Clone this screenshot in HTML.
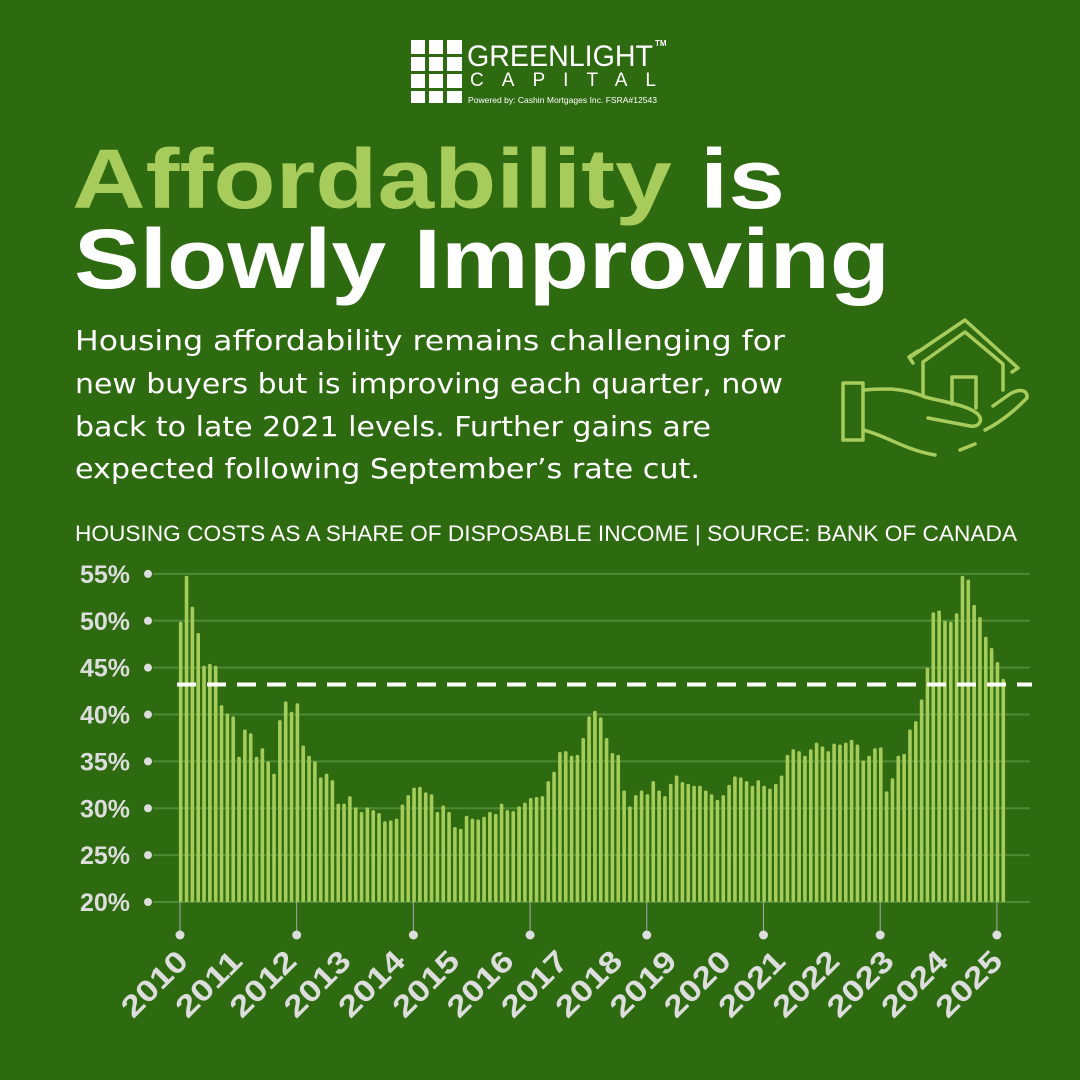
<!DOCTYPE html>
<html><head><meta charset="utf-8"><style>
html,body{margin:0;padding:0;background:#2d6a10;}
svg{display:block}
</style></head><body>
<svg id="s" width="1080" height="1080" viewBox="0 0 1080 1080" xmlns="http://www.w3.org/2000/svg">
<rect width="1080" height="1080" fill="#2d6a10"/>
<g fill="#fff">
<rect x="411" y="40" width="14" height="14"/><rect x="429" y="40" width="14" height="14"/><rect x="447" y="40" width="15" height="14"/>
<rect x="411" y="57" width="14" height="14"/><rect x="429" y="57" width="14" height="14"/><rect x="447" y="57" width="15" height="14"/>
<rect x="411" y="74" width="14" height="14"/><rect x="429" y="74" width="14" height="14"/><rect x="447" y="74" width="15" height="14"/>
<rect x="411" y="91" width="14" height="12"/><rect x="429" y="91" width="14" height="12"/><rect x="447" y="91" width="15" height="12"/>
</g>
<g font-family="Liberation Sans, sans-serif" fill="#fff">
<text x="467" y="66" font-size="30" textLength="186" lengthAdjust="spacingAndGlyphs">GREENLIGHT</text>
<text x="655" y="46" font-size="8" font-weight="bold">TM</text>
<text x="470" y="86" font-size="19" textLength="186" lengthAdjust="spacing">CAPITAL</text>
<text x="468" y="103" font-size="8.5" textLength="189" lengthAdjust="spacingAndGlyphs">Powered by:  Cashin Mortgages Inc.  FSRA#12543</text>
</g>
<g font-family="Liberation Sans, sans-serif" font-weight="bold">
<text x="72" y="208" font-size="84" textLength="713" lengthAdjust="spacingAndGlyphs"><tspan fill="#a8cc5c">Affordability</tspan><tspan fill="#fff"> is</tspan></text>
<text x="74" y="288" font-size="84" fill="#fff" textLength="816" lengthAdjust="spacingAndGlyphs">Slowly Improving</text>
</g>
<g font-family="DejaVu Sans, sans-serif" font-size="28" fill="#fff">
<text x="75" y="350" textLength="710" lengthAdjust="spacingAndGlyphs">Housing affordability remains challenging for</text>
<text x="75" y="393" textLength="708" lengthAdjust="spacingAndGlyphs">new buyers but is improving each quarter, now</text>
<text x="75" y="436" textLength="636" lengthAdjust="spacingAndGlyphs">back to late 2021 levels. Further gains are</text>
<text x="75" y="478" textLength="625" lengthAdjust="spacingAndGlyphs">expected following September’s rate cut.</text>
</g>
<text x="75" y="541" font-family="Liberation Sans, sans-serif" font-size="22" fill="#fff" textLength="942" lengthAdjust="spacingAndGlyphs">HOUSING COSTS AS A SHARE OF DISPOSABLE INCOME | SOURCE: BANK OF CANADA</text>
<g fill="none" stroke="#a8cc5c" stroke-width="3.5" stroke-linecap="round" stroke-linejoin="round">
<path d="M912 356 L965 320 L1018 368 L1012 372"/>
<path d="M918 351 L909 357 L913 363"/>
<path d="M923 362 L965 332 L1003 364 V390"/>
<path d="M923 364 V396"/>
<path d="M952 404 V377 H976 V408"/>
<rect x="843" y="383" width="20" height="57"/>
<path d="M863 390 C885 388 905 388 925 397 C945 402 965 405 975 412 C985 418 980 428 970 426 L928 418"/>
<path d="M863 430 C885 435 905 450 935 455"/>
<path d="M960 450 L975 444"/>
<path d="M985 430 C1005 420 1020 405 1027 398 C1028 390 1020 388 1010 394 L993 406"/>
</g>
<g id="chart"></g>
</svg>
<script>
var v=[49.9,54.8,51.5,48.7,45.2,45.4,45.2,41.0,40.1,39.8,35.5,38.4,38.0,35.5,36.4,35.0,33.7,39.4,41.4,40.3,41.2,36.7,35.6,35.0,33.3,33.7,33.0,30.5,30.5,31.3,30.1,29.6,30.1,29.8,29.5,28.6,28.7,28.9,30.4,31.4,32.2,32.3,31.7,31.5,29.6,30.3,29.6,28.0,27.8,29.2,28.9,28.8,29.1,29.6,29.4,30.5,29.8,29.7,30.2,30.6,31.1,31.2,31.3,32.9,33.9,36.0,36.1,35.6,35.7,37.5,39.8,40.4,39.7,37.5,35.9,35.7,31.9,30.2,31.4,31.9,31.5,32.9,31.9,31.3,32.6,33.5,32.8,32.6,32.4,32.4,31.9,31.5,30.9,31.4,32.5,33.4,33.3,32.9,32.4,33.0,32.4,32.1,32.6,33.5,35.7,36.3,36.1,35.6,36.3,37.0,36.6,36.1,36.9,36.8,37.0,37.3,36.8,35.1,35.6,36.4,36.5,31.8,33.2,35.6,35.8,38.4,39.3,41.6,45.0,50.9,51.1,50.0,49.9,50.8,54.8,54.4,51.7,50.4,48.3,47.1,45.6,43.8];
var h='';
function Y(p){return 902-(p-20)*9.374;}
for(var i=0;i<8;i++){var p=55-5*i,y=Y(p);
h+='<line x1="153" x2="1030" y1="'+y+'" y2="'+y+'" stroke="#4f8a36" stroke-width="2"/>';
h+='<circle cx="148" cy="'+y+'" r="4" fill="#ddd"/>';
h+='<text x="130" y="'+(y+9)+'" text-anchor="end" font-family="Liberation Sans, sans-serif" font-weight="bold" font-size="25" fill="#ddd">'+p+'%</text>';}
for(var i=0;i<v.length;i++){var x=180.7+i*5.834,y=Y(v[i]);
h+='<rect x="'+(x-1.8)+'" y="'+y+'" width="3.6" height="'+(902-y)+'" rx="1.5" fill="#a5cc5a"/>';}
h+='<line x1="177" x2="1032" y1="684.5" y2="684.5" stroke="#fff" stroke-width="4" stroke-dasharray="19 11"/>';
for(var i=0;i<8;i++){var x=180+i*116.7;
h+='<line x1="'+x+'" x2="'+x+'" y1="902" y2="933" stroke="#aaa" stroke-width="1"/>';
h+='<circle cx="'+x+'" cy="935" r="4.5" fill="#ddd"/>';}
for(var i=0;i<16;i++){var x=175+i*54.3,y=948;
h+='<text transform="translate('+x+','+y+') rotate(-45)" x="0" y="0" text-anchor="end" dy="0.7em" font-family="Liberation Sans, sans-serif" font-weight="bold" font-size="30" fill="#ddd" textLength="80" lengthAdjust="spacingAndGlyphs">'+(2010+i)+'</text>';}
document.getElementById('chart').innerHTML=h;
</script>
</body></html>
